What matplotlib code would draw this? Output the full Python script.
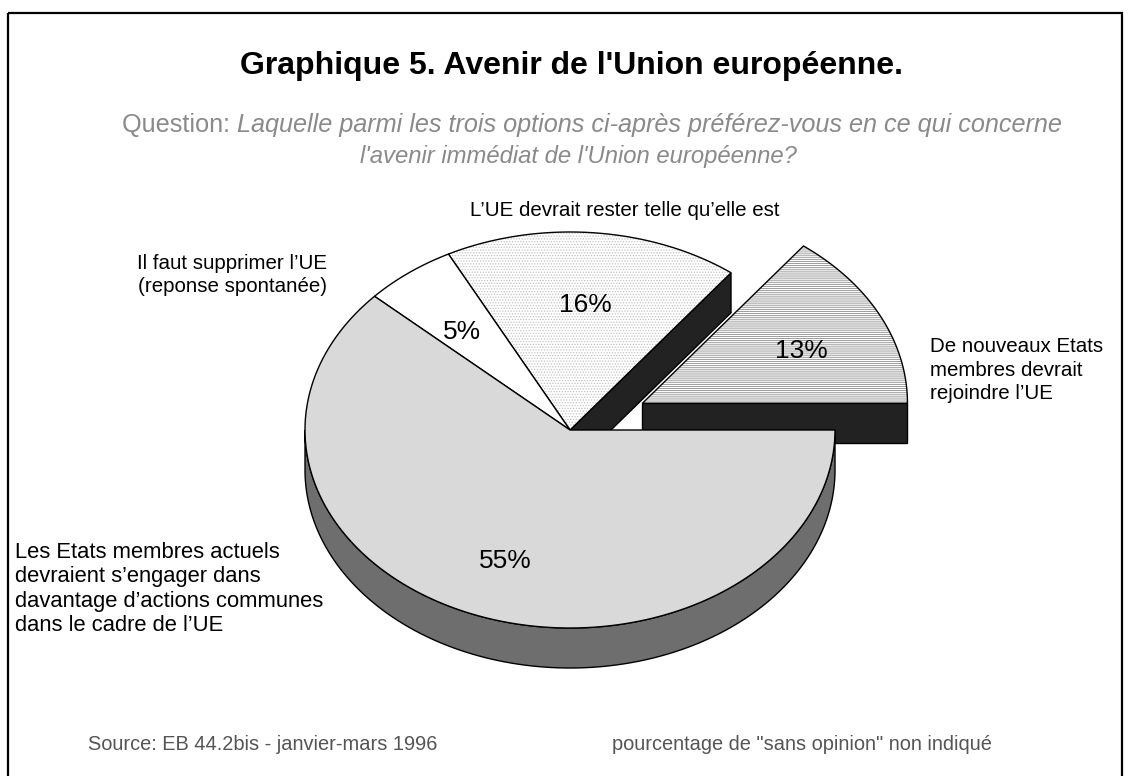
import matplotlib

matplotlib.use("Agg")
import matplotlib.pyplot as plt  # noqa: E402
import numpy as np  # noqa: E402
from matplotlib.patches import Polygon, Rectangle  # noqa: E402

# shares as printed ("sans opinion" is left out, so they only add up to 89),
# listed counter-clockwise starting at 3 o'clock
categories = [
    "De nouveaux Etats\nmembres devrait\nrejoindre l\u2019UE",
    "L\u2019UE devrait rester telle qu\u2019elle est",
    "Il faut supprimer l\u2019UE\n(reponse spontanée)",
    "Les Etats membres actuels\ndevraient s\u2019engager dans\n"
    "davantage d\u2019actions communes\ndans le cadre de l\u2019UE",
]
shares = [13, 16, 5, 55]
explode = [0.305, 0.0, 0.0, 0.0]

title = "Graphique 5. Avenir de l'Union européenne."
question_head = "Question: "
question_line1 = "Laquelle parmi les trois options ci-après préférez-vous en ce qui concerne"
question_line2 = "l'avenir immédiat de l'Union européenne?"
source = "Source: EB 44.2bis - janvier-mars 1996"
note = 'pourcentage de "sans opinion" non indiqué'

# styles per slice (same order as shares)
top_colors = ["#ffffff", "#ffffff", "#ffffff", "#d9d9d9"]
top_hatches = ["-" * 8, "." * 6, None, None]
hatch_colors = ["#8c8c8c", "#c4c4c4", None, None]
side_colors = ["#222222", "#222222", "#555555", "#6e6e6e"]
category_xy = [(930, 370, "left", 14.8, 1.3), (625, 211, "center", 14.8, 1.2),
               (232, 275, "center", 14.8, 1.25), (15, 589, "left", 15.8, 1.2)]

W, H = 1130, 776
CX, CY = 570, 430
RX, RY = 265, 198
DEPTH = 40
FONT = "Liberation Sans"

plt.rcParams["font.family"] = [FONT, "DejaVu Sans"]
plt.rcParams["hatch.linewidth"] = 0.6

fig = plt.figure(figsize=(W / 100, H / 100), dpi=100)
ax = fig.add_axes([0, 0, 1, 1])
ax.set_xlim(0, W)
ax.set_ylim(H, 0)
ax.axis("off")

ax.add_patch(Rectangle((8, 13), 1114, 800, fill=False, edgecolor="black", lw=1.6, zorder=0))


def rim(t_deg, ox=0.0, oy=0.0, drop=0.0):
    t = np.radians(np.atleast_1d(t_deg))
    return np.column_stack([CX + ox + RX * np.cos(t), CY + oy - RY * np.sin(t) + drop])


bounds = np.concatenate([[0], np.cumsum(shares)]) / sum(shares) * 360.0

slices = []
for i, share in enumerate(shares):
    t0, t1 = bounds[i], bounds[i + 1]
    mid = np.radians((t0 + t1) / 2)
    ox = explode[i] * RX * np.cos(mid)
    oy = -explode[i] * RY * np.sin(mid)
    apex = np.array([[CX + ox, CY + oy]])
    drop = np.array([[0, DEPTH]])

    sides = []
    lo, hi = max(t0, 180.0), min(t1, 360.0)
    if hi > lo:
        ts = np.linspace(lo, hi, 200)
        sides.append(np.vstack([rim(ts, ox, oy), rim(ts[::-1], ox, oy, DEPTH)]))
    for t, visible in ((t0, np.cos(np.radians(t0)) > 1e-9), (t1, np.cos(np.radians(t1)) < -1e-9)):
        if visible:
            p = rim(t, ox, oy)
            sides.append(np.vstack([apex, p, p + drop, apex + drop]))

    ts = np.linspace(t0, t1, 300)
    top = np.vstack([apex, rim(ts, ox, oy)])
    slices.append((i, sides, top, mid, ox, oy))


def draw_top(i, top, z):
    ax.add_patch(Polygon(top, closed=True, facecolor=top_colors[i], edgecolor="none", zorder=z))
    if top_hatches[i]:
        ax.add_patch(Polygon(top, closed=True, fill=False, hatch=top_hatches[i],
                             edgecolor=hatch_colors[i], lw=0, zorder=z))
    ax.add_patch(Polygon(top, closed=True, fill=False, edgecolor="black", lw=1.0,
                         joinstyle="miter", zorder=z))


def draw_sides(i, sides, z):
    for poly in sides:
        ax.add_patch(Polygon(poly, closed=True, facecolor=side_colors[i], edgecolor="black",
                             lw=1.0, zorder=z))


# exploded pieces sit behind the rest, so they go first
z = 1
for i, sides, top, *_ in slices:
    if explode[i] > 0:
        draw_sides(i, sides, z)
        draw_top(i, top, z + 0.5)
z = 3
for i, sides, top, *_ in slices:
    if explode[i] == 0:
        draw_sides(i, sides, z)
for i, sides, top, *_ in slices:
    if explode[i] == 0:
        draw_top(i, top, z + 1)

# percentage labels inside the slices
for i, sides, top, mid, ox, oy in slices:
    x = CX + ox + 0.67 * RX * np.cos(mid)
    y = CY + oy - 0.67 * RY * np.sin(mid) + 7
    ax.text(x, y, f"{shares[i]}%", ha="center", va="center", fontsize=19, zorder=10)

# category labels around the pie
for label, (x, y, ha, size, spacing) in zip(categories, category_xy):
    ax.text(x, y, label, ha=ha, va="center", fontsize=size, linespacing=spacing,
            multialignment=ha, zorder=10)

ax.text(572, 66, title, ha="center", va="center", fontsize=23, fontweight="bold")

renderer = fig.canvas.get_renderer()
grey = "#8a8a8a"
head = ax.text(0, 125, question_head, ha="left", va="center", fontsize=18.2, color=grey)
body = ax.text(0, 125, question_line1, ha="left", va="center", fontsize=18.2, color=grey,
               style="italic")
w_head = head.get_window_extent(renderer).width
w_body = body.get_window_extent(renderer).width
x_start = 592 - (w_head + w_body) / 2
head.set_x(x_start)
body.set_x(x_start + w_head)
ax.text(578, 157, question_line2, ha="center", va="center", fontsize=17.2, color=grey,
        style="italic")

ax.text(88, 745, source, ha="left", va="center", fontsize=14.4, color="#555555")
ax.text(612, 745, note, ha="left", va="center", fontsize=14.4, color="#555555")

fig.savefig("out.png", dpi=100)
